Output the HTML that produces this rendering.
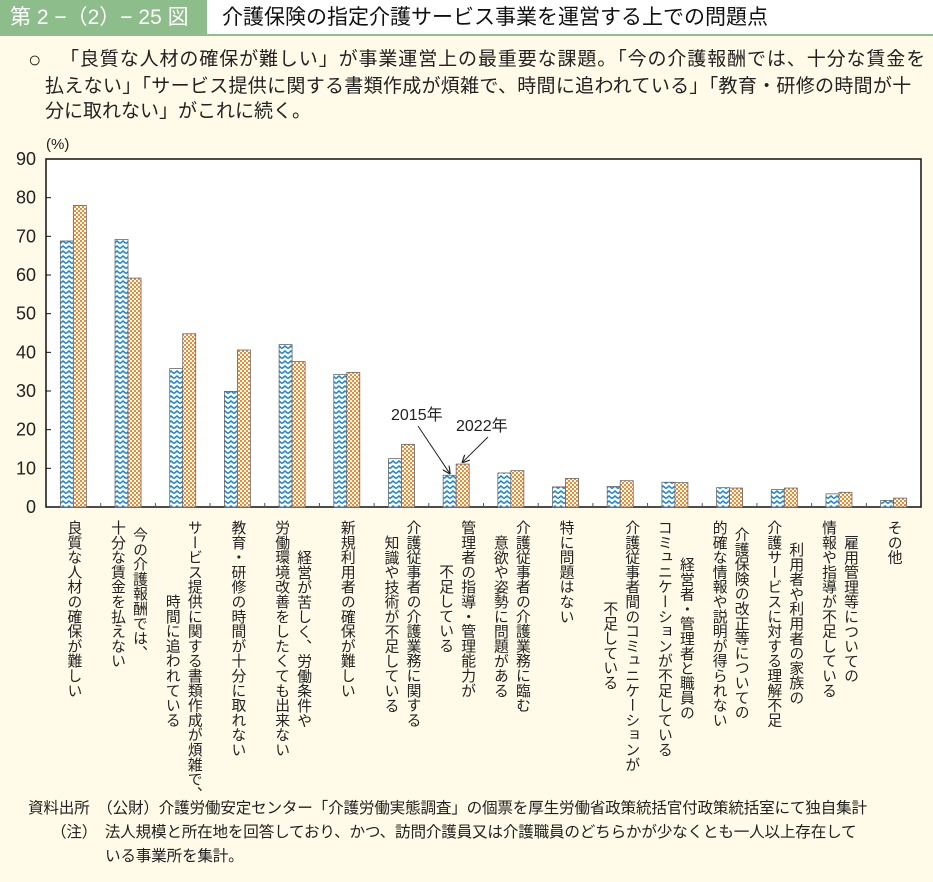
<!DOCTYPE html>
<html><head><meta charset="utf-8">
<style>
*{margin:0;padding:0;box-sizing:border-box}
body{width:933px;height:882px;background:#fffbe8;font-family:"Liberation Sans","Noto Sans CJK JP",sans-serif;color:#222;position:relative;overflow:hidden}
#hdr{position:absolute;left:0;top:0;width:933px;height:36px;background:#fff;border-bottom:2px solid #8fbf8f}
#hdr-tag{position:absolute;left:0;top:0;width:207px;height:36px;background:#8dbd8a;color:#fff;font-size:21px;line-height:36px;padding-left:10px}
#hdr-title{position:absolute;left:222px;top:0;line-height:36px;font-size:21px;color:#111}
#summary{position:absolute;left:0;top:47px;width:933px;font-size:19px;line-height:25px;white-space:nowrap}
#summary div{position:relative}
.vl{position:absolute;top:520px;writing-mode:vertical-rl;font-size:14.8px;line-height:22px;text-align:center;transform:translateX(-50%);white-space:nowrap}
#foot{position:absolute;left:28px;top:797px;font-size:15.6px;line-height:24px;white-space:nowrap;letter-spacing:-0.2px}
</style></head><body>
<div id="hdr">
<div id="hdr-tag">第 2 −（2）− 25 図</div>
<div id="hdr-title">介護保険の指定介護サービス事業を運営する上での問題点</div>
</div>
<div id="summary">
<div style="left:28px"><span style="font-size:22px">○</span> <span style="position:absolute;left:32px;letter-spacing:0.9px">「良質な人材の確保が難しい」が事業運営上の最重要な課題。「今の介護報酬では、十分な賃金を</span></div>
<div style="left:45px;letter-spacing:0.3px">払えない」「サービス提供に関する書類作成が煩雑で、時間に追われている」「教育・研修の時間が十</div>
<div style="left:45px">分に取れない」がこれに続く。</div>
</div>
<svg id="chart" width="933" height="520" style="position:absolute;left:0;top:0"></svg>
<div id="labels"></div>
<div id="foot">資料出所　（公財）介護労働安定センター「介護労働実態調査」の個票を厚生労働省政策統括官付政策統括室にて独自集計<br>　　（注）　法人規模と所在地を回答しており、かつ、訪問介護員又は介護職員のどちらかが少なくとも一人以上存在して<br>　　　　　いる事業所を集計。</div>
<script>
const categories=["良質な人材の確保が難しい","今の介護報酬では、\n十分な賃金を払えない","サービス提供に関する書類作成が煩雑で、\n時間に追われている","教育・研修の時間が十分に取れない","経営が苦しく、労働条件や\n労働環境改善をしたくても出来ない","新規利用者の確保が難しい","介護従事者の介護業務に関する\n知識や技術が不足している","管理者の指導・管理能力が\n不足している","介護従事者の介護業務に臨む\n意欲や姿勢に問題がある","特に問題はない","介護従事者間のコミュニケーションが\n不足している","経営者・管理者と職員の\nコミュニケーションが不足している","介護保険の改正等についての\n的確な情報や説明が得られない","利用者や利用者の家族の\n介護サービスに対する理解不足","雇用管理等についての\n情報や指導が不足している","その他"];
const values2015=[68.8,69.2,35.8,29.9,42.0,34.3,12.5,8.2,8.8,5.2,5.3,6.4,5.0,4.5,3.4,1.7];
const values2022=[78.0,59.2,44.8,40.6,37.6,34.8,16.2,11.1,9.4,7.4,6.8,6.3,4.9,4.9,3.8,2.3];
const yTicks=[0,10,20,30,40,50,60,70,80,90];
const X0=46,X1=921,Y0=507,YT=159,BW=13;
const band=(X1-X0)/categories.length;
const xc=i=>X0+band*(i+0.5);
const y=v=>Y0-(v/90)*(Y0-YT);
const NS="http://www.w3.org/2000/svg";
const svg=document.getElementById('chart');
function mk(t,a,p){const e=document.createElementNS(NS,t);for(const k in a)e.setAttribute(k,a[k]);(p||svg).appendChild(e);return e;}
svg.innerHTML=`<defs>
<pattern id="pz" width="6" height="5" patternUnits="userSpaceOnUse"><rect width="6" height="5" fill="#fff"/><path d="M0,3.5 L3,1 L6,3.5" stroke="#1e88d8" stroke-width="1.6" fill="none"/></pattern>
<pattern id="pc" width="4" height="4" patternUnits="userSpaceOnUse"><rect width="4" height="4" fill="#fff"/><rect width="2" height="2" fill="#f7882a"/><rect x="2" y="2" width="2" height="2" fill="#f7882a"/></pattern>
<marker id="ah" markerWidth="8" markerHeight="8" refX="7" refY="4" orient="auto"><path d="M0,0 L8,4 L0,8" fill="none" stroke="#222" stroke-width="1.2"/></marker></defs>`;
const frame=mk('rect',{x:X0,y:YT,width:X1-X0,height:Y0-YT,fill:'#fff',stroke:'#111','stroke-width':1.5});


yTicks.forEach(t=>{
  const l=mk('line',{x1:X0,x2:X0+5,y1:y(t),y2:y(t),stroke:'#111'});
  
  
  const tx=mk('text',{x:X0-10,y:y(t)+6,'text-anchor':'end','font-size':18,fill:'#222'});
  tx.textContent=t;
  
  
});
const unit=mk('text',{x:46,y:149,'font-size':15,fill:'#222'});
unit.textContent='(%)';


for(let i=1;i<categories.length;i++){
  const l=mk('line',{x1:X0+band*i,x2:X0+band*i,y1:Y0,y2:Y0-4,stroke:'#555'});
  
  
}
categories.forEach((c,i)=>{
  const b1=mk('rect',{x:xc(i)-BW,y:y(values2015[i]),width:BW,height:Y0-y(values2015[i]),fill:'url(#pz)',stroke:'#666','stroke-width':0.8});
  
  
  const b2=mk('rect',{x:xc(i),y:y(values2022[i]),width:BW,height:Y0-y(values2022[i]),fill:'url(#pc)',stroke:'#666','stroke-width':0.8});
  
  
  const d=document.createElement('div');
  d.className='vl';
  d.style.left=xc(i)+'px';
  d.innerHTML=c.replace('\n','<br>');
  
  
  document.getElementById('labels').appendChild(d);
});
const k=7;
const a1=mk('text',{x:391,y:420,'font-size':16,fill:'#222'});a1.textContent='2015年';


const a2=mk('text',{x:456,y:431,'font-size':16,fill:'#222'});a2.textContent='2022年';


const l1=mk('line',{x1:418,y1:426,x2:xc(k)-BW/2,y2:y(values2015[k])-2,stroke:'#222','marker-end':'url(#ah)'});


const l2=mk('line',{x1:488,y1:437,x2:xc(k)+BW/2,y2:y(values2022[k])-2,stroke:'#222','marker-end':'url(#ah)'});


</script>
</body></html>
